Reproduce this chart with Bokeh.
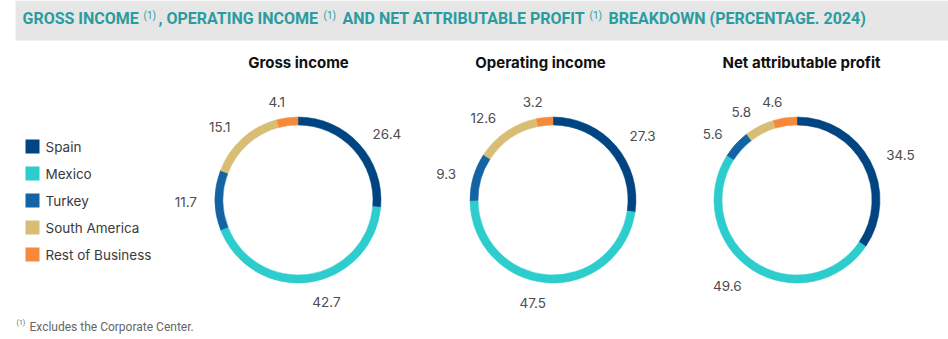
import numpy as np
from bokeh.plotting import figure
from bokeh.models import ColumnDataSource, Range1d
from bokeh.core.properties import value
from bokeh.embed import file_html
from bokeh.resources import INLINE

# ---------------- data ----------------
segments = ["Spain", "Mexico", "Turkey", "South America", "Rest of Business"]
colors = ["#004481", "#2DCCCD", "#1464A5", "#D8BE75", "#F7893B"]
chart_titles = ["Gross income", "Operating income", "Net attributable profit"]
gross_income = [26.4, 42.7, 11.7, 15.1, 4.1]
operating_income = [27.3, 47.5, 9.3, 12.6, 3.2]
net_profit = [34.5, 49.6, 5.6, 5.8, 4.6]
series = [gross_income, operating_income, net_profit]

title_parts = ["GROSS INCOME", "(1)", ", OPERATING INCOME", "(1)",
               "AND NET ATTRIBUTABLE PROFIT", "(1)", "BREAKDOWN (PERCENTAGE. 2024)"]
footnote = "Excludes the Corporate Center."

# ---------------- layout ----------------
W, H = 948, 339
def Y(y):
    return H - y

centers_x = [297.5, 552.5, 796.5]
center_y = 199.5
title_x = [298, 540, 801]
R_OUT, R_IN = 83, 75
R_LABEL = 101

FONT = "Inter"
p = figure(width=W, height=H, x_range=Range1d(0, W), y_range=Range1d(0, H),
           output_backend="svg", toolbar_location=None, min_border=0)
p.axis.visible = False
p.grid.visible = False
p.outline_line_color = None
p.background_fill_color = "white"
p.border_fill_color = "white"

# header bar
p.quad(left=15, right=W, top=Y(0), bottom=Y(40), fill_color="#E6E6E6", line_color=None)

teal = "#2A9CA0"
title_xs = [22, 143, 158, 323, 342, 589, 608]
for txt, tx in zip(title_parts, title_xs):
    sup = txt == "(1)"
    p.text(x=[tx], y=[Y(14.5 if sup else 18)], text=[txt], text_color=teal,
           text_font=value("Roboto"),
           text_font_size="10px" if sup else "16px",
           text_font_style="normal" if sup else "bold",
           text_align="left", text_baseline="middle")

# donuts
for k, vals in enumerate(series):
    vals = np.array(vals, dtype=float)
    frac = vals / vals.sum()
    cum1 = np.cumsum(frac)
    cum0 = cum1 - frac
    start = np.pi / 2 - 2 * np.pi * cum1
    end = np.pi / 2 - 2 * np.pi * cum0
    cx = centers_x[k]
    src = ColumnDataSource(dict(x=[cx] * len(vals), y=[Y(center_y)] * len(vals),
                                start=start, end=end, color=colors))
    p.annular_wedge(x="x", y="y", inner_radius=R_IN, outer_radius=R_OUT,
                    start_angle="start", end_angle="end", fill_color="color",
                    line_color="color", line_width=0.5, source=src)
    mid = 2 * np.pi * (cum0 + frac / 2)
    lx = cx + R_LABEL * np.sin(mid)
    ly = center_y - R_LABEL * np.cos(mid) + 2
    align = ["left" if s > 0 else "right" for s in np.sin(mid)]
    lsrc = ColumnDataSource(dict(x=lx, y=[Y(v) for v in ly],
                                 t=["%.1f" % v for v in vals], a=align))
    p.text(x="x", y="y", text="t", text_align="a", text_baseline="middle",
           text_font=value(FONT), text_font_size="13.5px", text_color="#4D4D4D",
           source=lsrc)
    p.text(x=[title_x[k]], y=[Y(62)], text=[chart_titles[k]], text_align="center",
           text_baseline="middle", text_font=value(FONT), text_font_size="15px",
           text_font_style="bold", text_color="#111111")

# legend
leg_y = [146 + 27 * i for i in range(len(segments))]
p.rect(x=[32] * len(segments), y=[Y(v) for v in leg_y], width=14, height=14,
       fill_color=colors, line_color=None)
p.text(x=[45] * len(segments), y=[Y(v) for v in leg_y], text=segments,
       text_align="left", text_baseline="middle", text_font=value(FONT),
       text_font_size="13.5px", text_color="#3A3A3A")

# footnote
p.text(x=[16], y=[Y(322.5)], text=["(1)"], text_font=value("Roboto"), text_font_size="7px",
       text_color="#666666", text_baseline="middle")
p.text(x=[29], y=[Y(326)], text=[footnote], text_font=value("Roboto"), text_font_size="12px",
       text_color="#666666", text_baseline="middle")

open("out.html", "w").write(file_html(p, INLINE))
